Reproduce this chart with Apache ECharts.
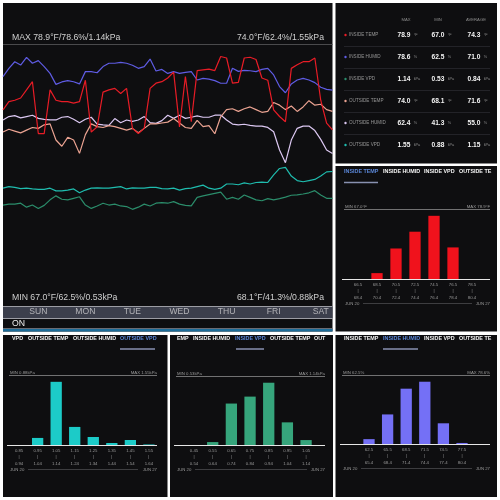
<!DOCTYPE html>
<html>
<head>
<meta charset="utf-8">
<script src="https://cdn.jsdelivr.net/npm/echarts@6/dist/echarts.min.js"></script>
<style>
  html, body { margin: 0; padding: 0; background: #fff; }
  #chart { width: 500px; height: 500px; }
</style>
</head>
<body>
<div id="chart"></div>
<script>
// hours since Sat 18:00, one sample every 3h
const hours = [0,3,6,9,12,15,18,21,24,27,30,33,36,39,42,45,48,51,54,57,60,63,66,69,72,75,78,81,84,87,90,93,96,99,102,105,108,111,114,117,120,123,126,129,132,135,138,141,144,147,150,153,156,159,162,165,168];
const dayNames = ['SUN','MON','TUE','WED','THU','FRI','SAT'];
const dayNoon = [18,42,66,90,114,138,162];

const insideTemp = [71.5,72.6,72.8,73.1,74.2,75.3,68.3,68.3,74.2,72.8,72.6,72.6,72.4,72.6,75.5,68.5,69.2,73.9,74.2,74.4,73.7,74.4,69.0,68.3,69.0,74.4,75.1,75.3,75.8,76.6,69.2,76.0,69.9,76.8,76.9,77.0,76.8,78.7,78.5,75.1,75.2,78.5,78.6,78.3,75.8,75.5,71.5,70.6,69.9,77.1,77.6,78.0,78.0,78.5,72.8,69.7,68.8];
const insideHumid = [69.8,73.6,76.6,75.1,78.6,75.9,77.1,74.4,71.3,66.3,67.4,68.0,67.5,66.5,72.1,72.1,71.6,74.4,75.9,75.9,76.3,75.9,75.0,73.6,74.4,77.8,72.4,73.1,71.3,72.1,71.3,71.8,72.1,68.3,69.0,68.7,68.0,66.8,66.8,73.6,72.2,72.7,72.5,72.1,73.1,73.6,70.6,65.3,62.5,66.5,68.3,69.0,68.3,67.1,65.0,64.0,63.7];
const insideVpd = [0.67,0.70,0.70,0.73,0.60,0.67,0.56,0.66,0.84,0.97,0.86,0.84,0.89,0.94,0.67,0.56,0.64,0.73,0.67,0.70,0.64,0.62,0.53,0.60,0.70,0.64,0.73,0.75,0.73,0.78,0.70,0.66,0.64,0.92,0.97,1.01,1.05,1.09,0.86,0.92,0.86,1.00,0.92,0.84,0.81,0.88,0.84,0.88,0.93,0.99,1.00,1.03,1.07,1.14,1.00,0.89,0.89];
const outsideTemp = [70.5,70.8,70.6,70.4,70.7,71.0,70.9,71.3,71.4,69.6,68.9,69.9,69.6,68.1,70.2,71.4,71.1,71.0,71.2,71.1,70.9,70.7,70.9,70.4,70.9,71.4,71.4,71.5,71.6,72.0,71.5,71.0,70.9,71.8,71.1,71.2,70.3,72.2,73.0,73.1,72.8,73.1,73.3,73.0,72.7,72.8,73.8,73.5,73.0,73.4,72.8,73.3,74.0,73.5,73.6,73.0,72.8];
const outsideHumid = [60.2,61.7,62.1,61.1,61.7,62.3,60.9,60.5,60.2,60.2,61.4,61.7,60.5,59.0,60.5,61.4,58.4,58.0,57.8,60.8,59.0,60.2,59.6,60.2,61.7,59.0,58.7,59.9,62.3,60.9,62.3,60.9,61.4,62.0,61.4,61.4,62.3,62.4,60.2,58.4,58.0,58.3,57.8,57.5,57.5,56.9,55.0,46.9,41.3,51.3,56.5,57.5,57.5,55.5,51.6,46.9,45.4];
const outsideVpd = [1.00,1.04,1.02,0.99,1.00,0.98,0.97,0.97,1.00,0.93,0.93,0.95,0.98,0.88,0.95,1.00,1.01,1.00,1.00,1.02,1.04,0.98,1.01,1.00,1.00,1.02,1.02,0.99,0.98,1.00,0.95,0.99,1.00,1.04,1.08,1.00,0.97,1.00,1.11,1.11,1.09,1.14,1.11,1.15,1.16,1.15,1.35,1.52,1.55,1.32,1.20,1.17,1.20,1.23,1.32,1.43,1.44];

// summary table
const rowNames = ['INSIDE TEMP','INSIDE HUMID','INSIDE VPD','OUTSIDE TEMP','OUTSIDE HUMID','OUTSIDE VPD'];
const rowMax = ['78.9','78.6','1.14','74.0','62.4','1.55'];
const rowMin = ['67.0','62.5','0.53','68.1','41.3','0.88'];
const rowAvg = ['74.3','71.0','0.84','71.6','55.0','1.15'];
const rowUnit = ['°F','%','kPa','°F','%','kPa'];

// histograms (share of the week, %)
const tempFrom = ['66.5','68.5','70.5','72.5','74.5','76.5','78.5'];
const tempTo = ['68.4','70.4','72.4','74.4','76.4','78.4','80.4'];
const tempShare = [0, 3.3, 17.1, 26.5, 35.4, 17.7, 0];

const oVpdFrom = ['0.85','0.95','1.05','1.15','1.25','1.35','1.45','1.55'];
const oVpdTo = ['0.94','1.04','1.14','1.24','1.34','1.44','1.54','1.64'];
const oVpdShare = [0, 6.8, 60.8, 17.4, 7.7, 1.9, 4.8, 0.5];

const iVpdFrom = ['0.45','0.55','0.65','0.75','0.85','0.95','1.05'];
const iVpdTo = ['0.54','0.64','0.74','0.84','0.94','1.04','1.14'];
const iVpdShare = [0, 1.6, 22.7, 26.5, 34.1, 12.4, 2.7];

const humFrom = ['62.5','65.5','68.5','71.5','74.5','77.5'];
const humTo = ['65.4','68.4','71.4','74.4','77.4','80.4'];
const humShare = [2.8, 17.0, 31.8, 35.8, 11.9, 0.6];

const COL = {
  inTemp: '#e81c26', inHumid: '#5f5ce4', inVpd: '#2b8d6b',
  outTemp: '#eba392', outHumid: '#dcc8f2', outVpd: '#1fbcae'
};
const rowColors = [COL.inTemp, COL.inHumid, COL.inVpd, COL.outTemp, COL.outHumid, COL.outVpd];
const FONT = '"Liberation Sans", Arial, sans-serif';
const PANEL = '#0e0e10';

let chart = echarts.init(document.getElementById('chart'));

let graphics = [];
function rect(x, y, w, h, fill, z) {
  graphics.push({ type: 'rect', silent: true, z: z === undefined ? -5 : z, shape: { x: x, y: y, width: w, height: h }, style: { fill: fill } });
}
function line(x1, y1, x2, y2, stroke, w) {
  graphics.push({ type: 'line', silent: true, z: 5, shape: { x1: x1, y1: y1, x2: x2, y2: y2 }, style: { stroke: stroke, lineWidth: w || 1 } });
}
function text(str, x, y, size, fill, align, weight) {
  graphics.push({ type: 'text', silent: true, z: 10, x: x, y: y, style: { text: str, fontSize: size, fill: fill, align: align || 'left', verticalAlign: 'middle', fontFamily: FONT, fontWeight: weight || 'normal' } });
}

// panels
rect(3, 3, 329.5, 328.5, PANEL);
rect(335.5, 3, 161.5, 160.5, PANEL);
rect(335.5, 166, 161.5, 165.5, PANEL);
rect(3, 335, 164.5, 162, PANEL);
rect(170, 335, 163, 162, PANEL);
rect(335.5, 335, 161.5, 162, PANEL);

// main chart header / footer
text('MAX 78.9°F/78.6%/1.14kPa', 12, 38, 8.7, '#cfcfcf');
text('74.0°F/62.4%/1.55kPa', 324, 38, 8.7, '#cfcfcf', 'right');
line(3, 44.5, 332.5, 44.5, '#4a4a4c', 1);
text('MIN 67.0°F/62.5%/0.53kPa', 12, 298, 8.7, '#cfcfcf');
text('68.1°F/41.3%/0.88kPa', 324, 298, 8.7, '#cfcfcf', 'right');
rect(3, 306, 329.5, 12, '#3c3f4c', -4);
line(3, 306.5, 332.5, 306.5, '#9c9da4', 1);
line(3, 318.5, 332.5, 318.5, '#9c9da4', 1);
text('ON', 12, 324, 8.7, '#eeeeee');
line(3, 328.5, 332.5, 328.5, '#6a6c74', 1);
rect(3, 329, 329.5, 2.5, '#1d6c98', -4);

// summary table
text('MAX', 406, 20, 4.2, '#8a8a8a', 'center');
text('MIN', 438, 20, 4.2, '#8a8a8a', 'center');
text('AVERAGE', 476, 20, 4.2, '#8a8a8a', 'center');
rowNames.forEach(function (name, i) {
  let y = 35 + 22 * i;
  graphics.push({ type: 'circle', silent: true, z: 10, shape: { cx: 345.5, cy: y, r: 1.2 }, style: { fill: rowColors[i] } });
  text(name, 349, y, 4.6, '#969696');
  [[rowMax, 397.5], [rowMin, 431.5], [rowAvg, 467.5]].forEach(function (c) {
    graphics.push({
      type: 'text', silent: true, z: 10, x: c[1], y: y,
      style: {
        text: '{v|' + c[0][i] + '} {u|' + rowUnit[i] + '}', align: 'left', verticalAlign: 'middle',
        rich: { v: { fontSize: 6.6, fontWeight: 'bold', fill: '#f4f4f4', fontFamily: FONT }, u: { fontSize: 3.8, fill: '#8a8a8a', fontFamily: FONT } }
      }
    });
  });
  if (i < 5) line(344, y + 11.5, 490, y + 11.5, '#2a2a2e', 0.8);
});

// histogram panel decorations
function tabs(labels, xs, y, active, ulFrom, ulTo) {
  labels.forEach(function (t, i) {
    text(t, xs[i], y, 5.4, i === active ? '#5a86d6' : '#f4f4f4', 'left', 'bold');
  });
  line(ulFrom, y + 10.5, ulTo, y + 10.5, '#8891b0', 1.5);
}
function frame(minTxt, maxTxt, l, r, topY, baseY, dl, dr) {
  text(minTxt, l, topY - 2.5, 4.3, '#9a9a9a');
  text(maxTxt, r, topY - 2.5, 4.3, '#9a9a9a', 'right');
  line(l - 1, topY + 0.5, r, topY + 0.5, '#8c8c8c', 0.8);
  line(l - 3, baseY + 0.5, r, baseY + 0.5, '#e6e6e6', 1);
  text('JUN 20', l, baseY + 24.5, 4.3, '#9a9a9a');
  text('JUN 27', r, baseY + 24.5, 4.3, '#9a9a9a', 'right');
  line(dl, baseY + 24.5, dr, baseY + 24.5, '#4a4a4c', 0.8);
}
tabs(['INSIDE TEMP', 'INSIDE HUMID', 'INSIDE VPD', 'OUTSIDE TE'], [344, 383, 424, 459], 172, 0, 344, 378);
frame('MIN 67.0°F', 'MAX 78.9°F', 345, 490, 209, 279, 363, 472);
tabs(['VPD', 'OUTSIDE TEMP', 'OUTSIDE HUMID', 'OUTSIDE VPD'], [12, 28, 73, 120], 338.5, 3, 120, 155);
frame('MIN 0.88kPa', 'MAX 1.55kPa', 10, 157, 375, 445, 28, 138);
tabs(['EMP', 'INSIDE HUMID', 'INSIDE VPD', 'OUTSIDE TEMP', 'OUT'], [177, 193, 235, 270, 314], 338.5, 2, 236, 264);
frame('MIN 0.53kPa', 'MAX 1.14kPa', 177, 325, 376, 445, 195, 307);
tabs(['INSIDE TEMP', 'INSIDE HUMID', 'INSIDE VPD', 'OUTSIDE TE'], [344, 383, 424, 459], 338.5, 1, 383, 418);
frame('MIN 62.5%', 'MAX 78.6%', 343, 490, 375, 444, 361, 472);

// main chart grids/axes
let grids = [{ left: 3, top: 44, width: 329.5, height: 260 }];
let xAxes = [{
  type: 'value', gridIndex: 0, min: 0, max: 168,
  axisLine: { show: false }, axisTick: { show: false }, splitLine: { show: false },
  axisLabel: {
    customValues: dayNoon, color: '#b4b4b8', fontSize: 8.6, fontFamily: FONT, margin: 3.5,
    formatter: function (v) { return dayNames[dayNoon.indexOf(v)]; }
  }
}];
let yAxes = [];
let series = [];

function mainLine(name, values, color, min, max) {
  let k = yAxes.length;
  yAxes.push({ type: 'value', gridIndex: 0, min: min, max: max, show: false });
  series.push({
    name: name, type: 'line', xAxisIndex: 0, yAxisIndex: k, showSymbol: false,
    data: hours.map(function (h, i) { return [h, values[i]]; }),
    lineStyle: { color: color, width: 1.2 }, itemStyle: { color: color }
  });
}
mainLine('OUTSIDE HUMID', outsideHumid, COL.outHumid, -21.27, 93.83);
mainLine('OUTSIDE TEMP', outsideTemp, COL.outTemp, 51.23, 80.35);
mainLine('INSIDE HUMID', insideHumid, COL.inHumid, -33.63, 84.67);
mainLine('INSIDE TEMP', insideTemp, COL.inTemp, 45.29, 80.39);
mainLine('OUTSIDE VPD', outsideVpd, COL.outVpd, -2.055, 4.803);
mainLine('INSIDE VPD', insideVpd, COL.inVpd, -2.564, 5.933);

function histogram(from, to, share, color, left, top, width, height) {
  let g = grids.length;
  grids.push({ left: left, top: top, width: width, height: height });
  xAxes.push({
    type: 'category', gridIndex: g, data: from,
    axisLine: { show: false }, axisTick: { show: false },
    axisLabel: {
      interval: 0, color: '#9a9a9a', fontSize: 4.3, lineHeight: 6.5, margin: 2.5, fontFamily: FONT,
      formatter: function (v, i) { return v + '\n|\n' + to[i]; }
    }
  });
  yAxes.push({ type: 'value', gridIndex: g, min: 0, max: function (e) { return e.max * 1.1; }, show: false });
  series.push({
    type: 'bar', xAxisIndex: g, yAxisIndex: yAxes.length - 1, data: share,
    barWidth: 11.3, itemStyle: { color: color }
  });
}
histogram(tempFrom, tempTo, tempShare, '#f0121c', 348.5, 209.5, 133, 69.5);
histogram(oVpdFrom, oVpdTo, oVpdShare, '#1ccbc8', 9.8, 375.5, 148.4, 69.5);
histogram(iVpdFrom, iVpdTo, iVpdShare, '#36a57c', 184.7, 376.5, 130.7, 68.5);
histogram(humFrom, humTo, humShare, '#7470f6', 359.7, 375.5, 111.6, 68.5);

chart.setOption({
  backgroundColor: '#ffffff',
  animation: false,
  grid: grids,
  xAxis: xAxes,
  yAxis: yAxes,
  series: series,
  graphic: { elements: graphics }
});
</script>
</body>
</html>
